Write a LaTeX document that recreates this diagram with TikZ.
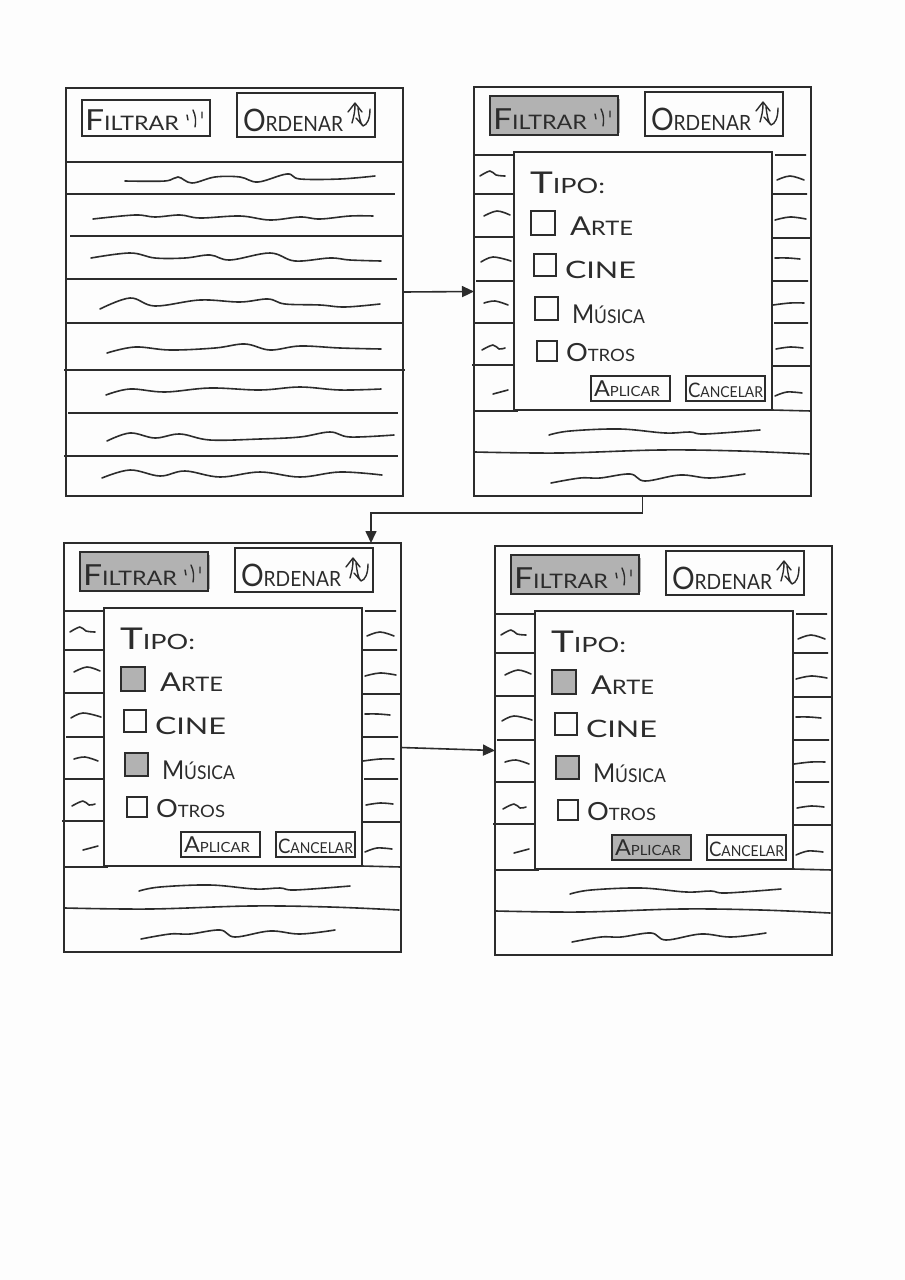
\documentclass[tikz,border=0pt]{standalone}
\usepackage{fontspec}
\setmainfont{Lato}
\usetikzlibrary{arrows.meta,calc}
\definecolor{ink}{HTML}{2C2C2C}
\definecolor{marked}{HTML}{B2B2B2}
\definecolor{paper}{HTML}{FDFDFD}
\tikzset{
  frame/.style={draw=ink,line width=1.9pt,inner sep=0pt,outer sep=0pt},
  rule/.style={draw=ink,line width=1.6pt},
  squig/.style={draw=ink,line width=1.6pt,line cap=round,line join=round},
  pen/.style={draw=ink,line width=1.4pt,line cap=round,line join=round},
  hand/.style={text=ink,inner sep=0pt,outer sep=0pt,anchor=base west},
  link/.style={draw=ink,line width=1.6pt,-{Triangle[length=12pt,width=11pt]}}
}
% \boxn[options]{name}{x1}{y1}{x2}{y2}
\newcommand{\boxn}[6][]{%
  \pgfmathsetmacro{\bw}{#5-#3}\pgfmathsetmacro{\bh}{#6-#4}%
  \pgfmathsetmacro{\bx}{(#3+#5)/2}\pgfmathsetmacro{\by}{(#4+#6)/2}%
  \node[frame,minimum width=\bw pt,minimum height=\bh pt,#1] (#2) at (\bx,\by) {};}
% \hw{width}{big size}{small size}{first}{rest}
\newcommand{\hw}[5]{\resizebox{#1pt}{\height}{{\fontsize{#2}{#2}\selectfont #4}{\fontsize{#3}{#3}\selectfont #5}}}
\newcommand{\wig}[1]{\draw[squig] plot[smooth,tension=.6] coordinates {#1};}
% header bar, in the coordinates of the second screen
\newcommand{\headbar}[4]{% prefix, filter fill, filter top, filter bottom
  \boxn[fill=#2]{#1filter}{490}{#3}{618}{#4}
  \boxn{#1order}{645}{92}{783}{136}
  \node[hand] (#1ftext) at (493,129) {\hw{94}{29}{20}{F}{ILTRAR}};
  \node[hand] (#1otext) at (651,130) {\hw{100}{31}{21}{O}{RDENAR}};
  \draw[pen] (595,114) -- (596,119) (601,109) .. controls (604,115) and (604,121) .. (603,126) (610,111) -- (610,117);
  \draw[pen] (760,122) .. controls (762,115) and (763,110) .. (763,104) (756,111) -- (763,102) -- (770,111);
  \draw[pen] (766,107) .. controls (767,115) and (768,122) .. (771,125) .. controls (775,124) and (778,118) .. (778,108) (764,117) -- (771,125);
}
% complete screen with filter dialog
\newcommand{\dialogscreen}[6]{% prefix, dx, dy, arte fill, musica fill, aplicar fill
  \begin{scope}[shift={(#2,#3)}]
    \boxn{#1}{474}{87}{811}{496}
    \fill[marked] (618,99) rectangle (620,133);
    \headbar{#1}{marked}{96}{135}
    \draw[rule] (474,155) -- (514,155) (474,194) -- (514,194) (474,237) -- (514,237) (476,281) -- (514,281)
      (474,323) -- (514,323) (472,365) -- (514,365) (474,411) -- (518,411);
    \draw[rule] (775,155) -- (806,155) (772,194) -- (807,194) (770,238) -- (811,238) (772,281) -- (808,281)
      (774,323) -- (808,323) (772,366) -- (811,366) (772,410) -- (811,411);
    \wig{(480,176)(490,171)(496,175)(505,176)}
    \wig{(484,216)(497,211)(510,215)}
    \wig{(481,262)(493,257)(511,261)}
    \wig{(484,303)(495,301)(508,305)}
    \wig{(482,350)(493,345)(499,349)(505,348)}
    \wig{(493,394)(508,390)}
    \wig{(777,180)(790,176)(804,180)}
    \wig{(775,220)(790,217)(806,219)}
    \wig{(775,258)(788,258)(800,259)}
    \wig{(773,305)(790,303)(804,303)}
    \wig{(776,349)(790,347)(803,348)}
    \wig{(775,396)(787,392)(802,393)}
    \wig{(549,435)(570,431)(620,429)(665,433)(690,432)(705,434)(760,430)}
    \wig{(551,483)(580,478)(600,478)(630,474)(645,481)(680,475)(710,478)(745,474)}
    \wig{(475,452)(560,453)(660,450)(740,451)(809,454)}
    \boxn[fill=paper]{#1dialog}{514}{152}{772}{410}
    \node[hand] (#1tipo) at (530,193) {\hw{75}{30}{21}{T}{IPO:}};
    \boxn[fill=#4]{#1carte}{531}{211}{555}{235}
    \boxn[fill=paper]{#1ccine}{534}{254}{556}{276}
    \boxn[fill=#5]{#1cmus}{535}{297}{558}{320}
    \boxn[fill=paper]{#1cotros}{537}{341}{557}{361}
    \node[hand] (#1tarte) at (570,235) {\hw{63}{26}{20}{A}{RTE}};
    \node[hand] (#1tcine) at (565,278) {\hw{71}{24}{23}{C}{INE}};
    \node[hand] (#1tmus) at (572,323) {\hw{73}{26}{19}{M}{ÚSICA}};
    \node[hand] (#1totros) at (566,361) {\hw{69}{25}{17}{O}{TROS}};
    \boxn[fill=#6]{#1apply}{591}{376}{670}{401}
    \boxn[fill=paper]{#1cancel}{686}{376}{765}{401}
    \node[hand] (#1tapply) at (594,396) {\hw{66}{22}{14}{A}{PLICAR}};
    \node[hand] (#1tcancel) at (688,397) {\hw{75}{20}{15}{C}{ANCELAR}};
  \end{scope}
}
\begin{document}
\begin{tikzpicture}[x=1pt,y=-1pt]
  \useasboundingbox[fill=paper] (0,0) rectangle (905,1280);
  % first screen
  \boxn{lista}{66}{88}{403}{496}
  \begin{scope}[shift={(-408,1)}]
    \headbar{lista}{paper}{99}{135}
  \end{scope}
  \draw[rule] (66,162) -- (403,162) (67,194) -- (395,194) (70,236) -- (402,236) (66,279) -- (397,279)
    (66,323) -- (403,323) (64,370) -- (405,370) (68,413) -- (398,413) (64,456) -- (398,456);
  \wig{(125,181)(165,181)(178,177)(192,183)(215,177)(240,177)(258,182)(287,174)(300,179)(340,179)(375,176)}
  \wig{(93,219)(135,215)(155,217)(180,215)(200,218)(240,216)(270,220)(300,217)(320,219)(350,216)(373,216)}
  \wig{(91,258)(130,253)(155,258)(185,258)(210,255)(230,260)(270,253)(295,261)(330,258)(350,260)(381,261)}
  \wig{(100,309)(130,298)(155,306)(200,300)(240,302)(268,299)(285,304)(320,305)(345,307)(380,304)}
  \wig{(107,353)(135,347)(170,350)(215,348)(245,344)(270,350)(300,346)(340,348)(381,349)}
  \wig{(106,395)(130,389)(165,392)(210,388)(260,390)(300,387)(340,390)(381,389)}
  \wig{(107,441)(130,433)(155,438)(180,434)(210,440)(260,439)(300,437)(330,432)(350,437)(394,435)}
  \wig{(102,478)(130,470)(160,476)(185,471)(220,477)(260,472)(300,477)(340,472)(382,475)}
  % dialog screens
  \dialogscreen{dos}{0}{0}{paper}{paper}{paper}
  \dialogscreen{tres}{-410}{456}{marked}{marked}{paper}
  \dialogscreen{cuatro}{21}{459}{marked}{marked}{marked}
  % connectors
  \coordinate (entrada) at (371,543);
  \coordinate (codo) at (371,513);
  \draw[link] (lista.east) -- (dos.west);
  \draw[link] (dos.south) |- (codo) -- (entrada);
  \draw[link] (tres.east) -- (cuatro.west);
\end{tikzpicture}
\end{document}
